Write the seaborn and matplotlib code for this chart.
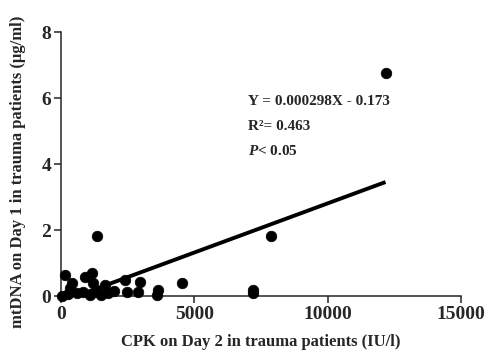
import numpy as np
import matplotlib.pyplot as plt
import seaborn as sns

# CPK on day 2 (IU/l) vs mtDNA on day 1 (ug/ml)
cpk = [50, 150, 250, 340, 400, 600, 820, 900, 1090, 1160, 1200, 1350, 1350,
       1500, 1650, 1760, 2000, 2400, 2470, 2880, 2960, 3590, 3630, 4530,
       7190, 7200, 7865, 12170]
mtdna = [0.0, 0.64, 0.05, 0.25, 0.4, 0.08, 0.12, 0.58, 0.03, 0.7, 0.4, 1.82, 0.12,
         0.03, 0.33, 0.08, 0.15, 0.48, 0.12, 0.12, 0.42, 0.02, 0.18, 0.4,
         0.18, 0.08, 1.82, 6.75]
slope = 0.000298
intercept = -0.173

sns.set_style("ticks")
plt.rcParams['font.family'] = ['Liberation Serif', 'DejaVu Serif']
plt.rcParams['font.weight'] = 'bold'
plt.rcParams['mathtext.fontset'] = 'custom'
plt.rcParams['mathtext.rm'] = 'Liberation Serif:bold'
plt.rcParams['mathtext.bf'] = 'Liberation Serif:bold'
plt.rcParams['mathtext.it'] = 'Liberation Serif:italic:bold'
plt.rcParams['mathtext.bfit'] = 'Liberation Serif:italic:bold'

fig = plt.figure(figsize=(4.89, 3.54), dpi=100)
ax = fig.add_axes([0.1247, 0.1638, 0.8180, 0.7458])

xs = np.array([min(cpk), max(cpk)])
ax.plot(xs, slope * xs + intercept, color='black', lw=2.8, solid_capstyle='butt')
sns.scatterplot(x=cpk, y=mtdna, ax=ax, color='black', s=58, edgecolor='black',
                linewidth=0.5, clip_on=False, zorder=3)

ax.set_xlim(0, 15000)
ax.set_ylim(0, 8)
ax.set_xticks([0, 5000, 10000, 15000])
ax.set_yticks([0, 2, 4, 6, 8])
sns.despine(ax=ax)
for s in ['left', 'bottom']:
    ax.spines[s].set_linewidth(1.1)
ax.tick_params(direction='out', length=5, width=1.1, labelsize=14, pad=2)
for lab in ax.get_xticklabels() + ax.get_yticklabels():
    lab.set_fontweight('bold')

ax.set_xlabel("CPK on Day 2 in trauma patients (IU/l)", fontsize=12, fontweight='bold', labelpad=8)
ax.set_ylabel("mtDNA on Day 1 in trauma patients (\u03bcg/ml)", fontsize=12, fontweight='bold')
ax.yaxis.set_label_coords(-0.088, 0.47)

ax.text(7000, 5.9, "Y = 0.000298X - 0.173", fontsize=11, fontweight='bold', va='center')
ax.text(7000, 5.15, "R\u00b2= 0.463", fontsize=11, fontweight='bold', va='center')
ax.text(7000, 4.4, "$\\mathit{P}$< 0.05", fontsize=11, fontweight='bold', va='center')

fig.savefig("out.png", dpi=100)
